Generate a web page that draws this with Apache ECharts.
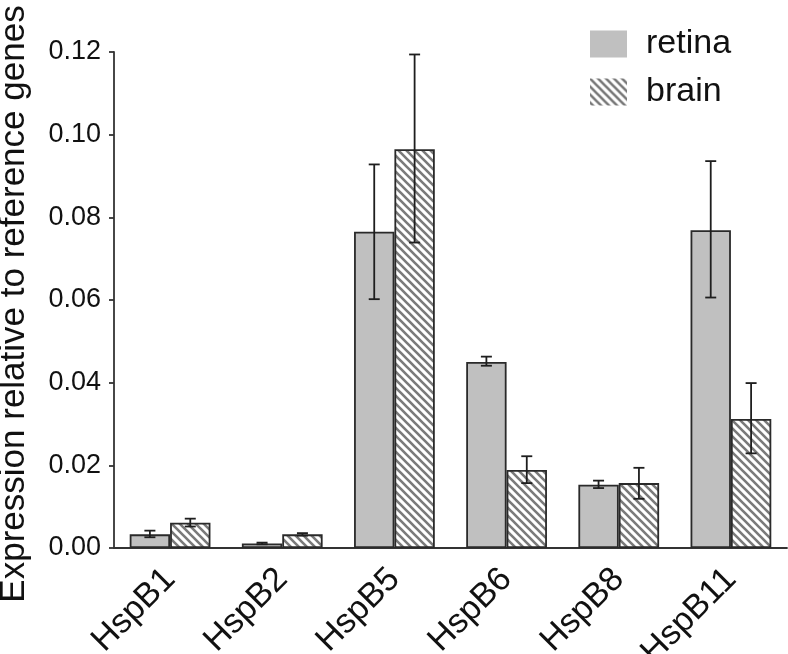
<!DOCTYPE html>
<html>
<head>
<meta charset="utf-8">
<script src="https://cdn.jsdelivr.net/npm/echarts@6/dist/echarts.min.js"></script>
<style>html,body{margin:0;padding:0;background:#fff;}#c{width:788px;height:654px;}</style>
</head>
<body>
<div id="c"></div>
<script>
const categories = ['HspB1', 'HspB2', 'HspB5', 'HspB6', 'HspB8', 'HspB11'];
const retina = [0.0033, 0.0011, 0.0765, 0.0450, 0.0153, 0.0769];
const retinaLow = [0.0026, 0.0009, 0.0602, 0.0441, 0.0145, 0.0606];
const retinaHigh = [0.0042, 0.0013, 0.0928, 0.0463, 0.0163, 0.0936];
const brain = [0.0061, 0.0033, 0.0965, 0.0189, 0.0157, 0.0312];
const brainLow = [0.0052, 0.0030, 0.0739, 0.0157, 0.0119, 0.0229];
const brainHigh = [0.0071, 0.0036, 0.1194, 0.0222, 0.0194, 0.0399];
const yTicks = [0, 0.02, 0.04, 0.06, 0.08, 0.10, 0.12];

const FONT = 'Liberation Sans, Arial, sans-serif';

// hatch pattern
const tile = document.createElement('canvas');
tile.width = 8; tile.height = 8;
const g = tile.getContext('2d');
g.fillStyle = '#ffffff'; g.fillRect(0, 0, 8, 8);
g.strokeStyle = '#7a7a7a'; g.lineWidth = 2.6; g.lineCap = 'square';
g.beginPath();
g.moveTo(-2, -2); g.lineTo(10, 10);
g.moveTo(-2, 6); g.lineTo(2, 10);
g.moveTo(6, -2); g.lineTo(10, 2);
g.stroke();
const hatch = { image: tile, repeat: 'repeat' };

const GAP_RATIO = 0.28;
function errSeries(low, high, sign) {
  return {
    type: 'custom',
    z: 10,
    silent: true,
    data: categories.map((c, i) => [i, low[i], high[i]]),
    encode: { x: 0, y: [1, 2] },
    renderItem: function (params, api) {
      const i = api.value(0);
      const band = api.size([1, 0])[0];
      const off = sign * band * (1 - GAP_RATIO) / 4;
      const pLow = api.coord([i, api.value(1)]);
      const pHigh = api.coord([i, api.value(2)]);
      const x = pLow[0] + off;
      const cap = 5.5;
      const style = { stroke: '#1e1e1e', lineWidth: 1.8, fill: null };
      return {
        type: 'group',
        children: [
          { type: 'line', shape: { x1: x, y1: pLow[1], x2: x, y2: pHigh[1] }, style: style },
          { type: 'line', shape: { x1: x - cap, y1: pLow[1], x2: x + cap, y2: pLow[1] }, style: style },
          { type: 'line', shape: { x1: x - cap, y1: pHigh[1], x2: x + cap, y2: pHigh[1] }, style: style }
        ]
      };
    }
  };
}

const chart = echarts.init(document.getElementById('c'), null, { renderer: 'canvas' });
chart.setOption({
  animation: false,
  backgroundColor: '#ffffff',
  textStyle: { fontFamily: FONT },
  grid: { left: 114, right: 1, top: 52, bottom: 106, containLabel: false, outerBoundsMode: 'none' },
  legend: {
    orient: 'vertical',
    left: 585,
    top: 22,
    icon: 'rect',
    itemWidth: 37,
    itemHeight: 27,
    itemGap: 14,
    data: ['retina', 'brain'],
    itemStyle: { borderWidth: 0 },
    textStyle: { fontSize: 34, color: '#111', fontFamily: FONT, padding: [0, 0, 0, 14] },
    selectedMode: false
  },
  xAxis: {
    type: 'category',
    data: categories,
    axisLine: { lineStyle: { color: '#333', width: 1.8 } },
    axisTick: { show: false },
    axisLabel: { rotate: 45, fontSize: 34, color: '#111', margin: 26, fontFamily: FONT, interval: 0 },
    splitLine: { show: false }
  },
  yAxis: {
    type: 'value',
    min: yTicks[0],
    max: yTicks[yTicks.length - 1],
    interval: 0.02,
    name: 'Expression relative to reference genes',
    nameLocation: 'middle',
    nameRotate: 90,
    nameGap: 82,
    nameTextStyle: { fontSize: 35, color: '#111', fontFamily: FONT, padding: [0, 8, 0, 0] },
    axisLine: { show: true, lineStyle: { color: '#333', width: 1.8 } },
    axisTick: { show: true, length: 5, lineStyle: { color: '#333', width: 1.8 } },
    axisLabel: { fontSize: 27, color: '#111', margin: 13, fontFamily: FONT, formatter: v => v.toFixed(2) },
    splitLine: { show: false }
  },
  series: [
    {
      name: 'retina',
      type: 'bar',
      data: retina,
      barGap: '0%',
      barCategoryGap: (GAP_RATIO * 100) + '%',
      itemStyle: { color: '#c0c0c0', borderColor: '#2a2a2a', borderWidth: 1.8 }
    },
    {
      name: 'brain',
      type: 'bar',
      data: brain,
      barGap: '0%',
      barCategoryGap: (GAP_RATIO * 100) + '%',
      itemStyle: { color: hatch, borderColor: '#2a2a2a', borderWidth: 1.8 }
    },
    errSeries(retinaLow, retinaHigh, -1),
    errSeries(brainLow, brainHigh, 1)
  ]
});
</script>
</body>
</html>
